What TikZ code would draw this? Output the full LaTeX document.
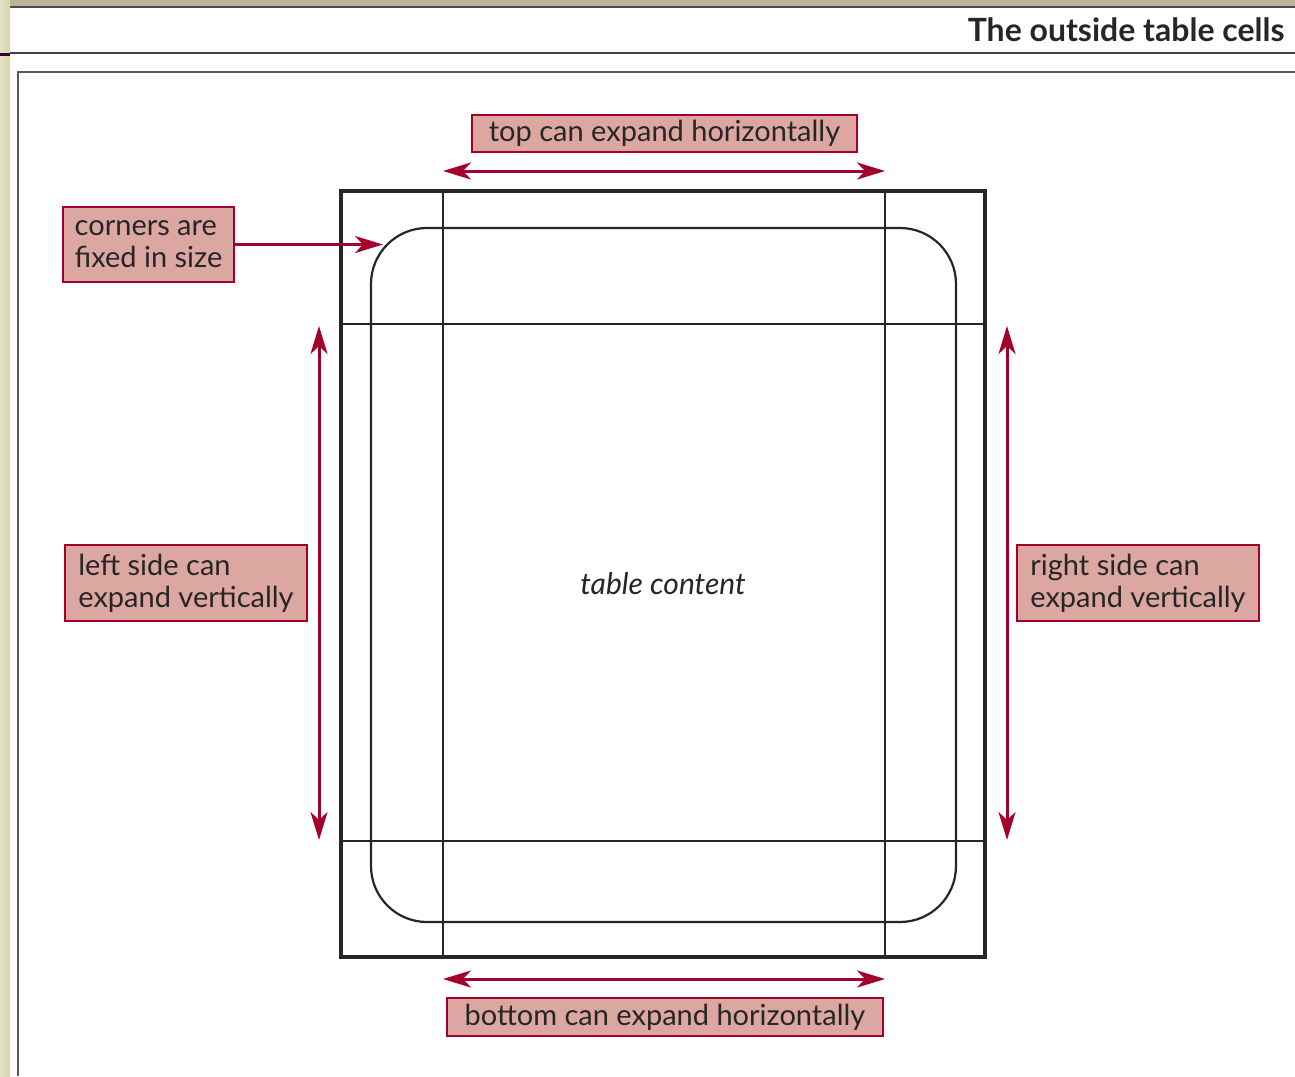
\documentclass[tikz,border=0pt]{standalone}
\usepackage{fontspec}
\setmainfont{Lato}
\usetikzlibrary{arrows.meta, positioning}
\definecolor{labelred}{HTML}{A3002E}
\definecolor{labelfill}{HTML}{DCA7A1}
\definecolor{pagebeige}{HTML}{D6D4AE}
\definecolor{pageolive}{HTML}{B7B59A}

\begin{document}
\begin{tikzpicture}[x=1pt, y=-1pt,
        lbl/.style={draw=labelred, line width=2.8pt, fill=labelfill, inner xsep=8pt, inner ysep=2pt,
            font=\fontsize{29}{32}\selectfont, align=left, text=black!85},
        expandarrow/.style={draw=labelred, line width=3pt,
            {Stealth[length=28pt, width=17pt, inset=8pt]}-{Stealth[length=28pt, width=17pt, inset=8pt]}},
        pointarrow/.style={draw=labelred, line width=3pt, -{Stealth[length=28pt, width=17pt, inset=8pt]}},
        cellline/.style={line width=2.4pt, black!85}]
        \useasboundingbox (0,0) rectangle (1295,1076);

        % page frame
        \fill[pageolive] (0,0) rectangle (1295,6);
        \shade[left color=pagebeige!70, right color=pagebeige] (0,0) rectangle (10,1076);
        \draw[line width=2pt, black!70] (10,7) -- (1295,7);
        \draw[line width=2pt, black!75] (10,53) -- (1295,53);
        \draw[line width=3pt, violet!40!black] (0,54) -- (10,54);
        \draw[line width=2pt, black!65] (1295,72) -- (18,72) -- (18,1076);
        \node[anchor=east, font=\fontsize{32}{38}\selectfont\bfseries, text=black!85] at (1288,30) (title) {The outside table cells};

        % table cells
        \draw[line width=4pt, black!85] (341,191) rectangle (985,957);
        \foreach \x in {443, 885}
            \draw[cellline] (\x,191) -- (\x,957);
        \foreach \y in {324, 841}
            \draw[cellline] (341,\y) -- (985,\y);
        \draw[line width=2.2pt, black!85, rounded corners=56pt] (371,228) rectangle (956,922);
        \node[font=\fontsize{30}{34}\selectfont\itshape, text=black!85] at (663,584) (content) {table content};

        % labels
        \node[lbl, minimum width=385pt, minimum height=37pt] at (664.5,133.5) (toplbl) {top can expand horizontally};
        \node[lbl, minimum width=171pt, minimum height=75pt] at (148.5,244.5) (cornerlbl) {corners are\\fixed in size};
        \node[lbl, minimum width=242pt, minimum height=76pt] at (186,583) (leftlbl) {left side can\\expand vertically};
        \node[lbl, minimum width=242pt, minimum height=76pt] at (1138,583) (rightlbl) {right side can\\expand vertically};
        \node[lbl, minimum width=436pt, minimum height=38pt] at (665,1017) (bottomlbl) {bottom can expand horizontally};

        % arrows
        \coordinate (topl) at (443,171);
        \coordinate (topr) at (885,171);
        \coordinate (botl) at (443,979);
        \coordinate (botr) at (885,979);
        \coordinate (leftt) at (319,326);
        \coordinate (leftb) at (319,840);
        \coordinate (rightt) at (1007,326);
        \coordinate (rightb) at (1007,840);
        \coordinate (cornertip) at (383,244.5);

        \draw[expandarrow] (topl) to (topr);
        \draw[expandarrow] (botl) to (botr);
        \draw[expandarrow] (leftt) to (leftb);
        \draw[expandarrow] (rightt) to (rightb);
        \draw[pointarrow] (cornerlbl.east) to (cornertip);
\end{tikzpicture}
\end{document}
